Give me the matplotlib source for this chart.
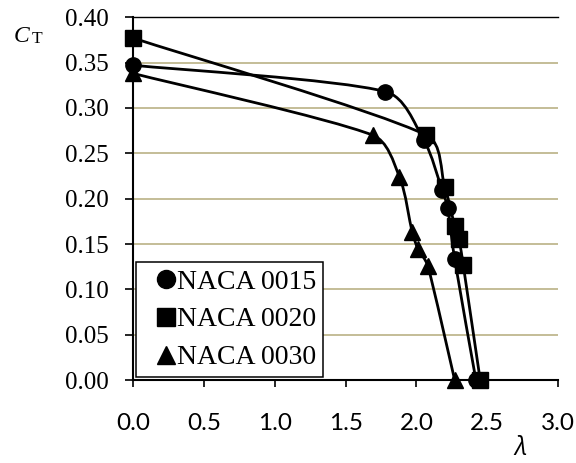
import numpy as np
import matplotlib
matplotlib.use('Agg')
import matplotlib.pyplot as plt
from matplotlib.path import Path
from matplotlib.patches import PathPatch

# data
tsr_0015 = [0.0, 1.78, 2.05, 2.18, 2.22, 2.27, 2.42]
ct_0015 = [0.347, 0.318, 0.265, 0.210, 0.190, 0.133, 0.0]
tsr_0020 = [0.0, 2.07, 2.20, 2.27, 2.30, 2.33, 2.45]
ct_0020 = [0.377, 0.270, 0.213, 0.170, 0.155, 0.127, 0.0]
tsr_0030 = [0.0, 1.69, 1.88, 1.97, 2.01, 2.08, 2.27]
ct_0030 = [0.338, 0.270, 0.224, 0.163, 0.145, 0.126, 0.0]

series = [
    ('NACA 0015', tsr_0015, ct_0015, 'o'),
    ('NACA 0020', tsr_0020, ct_0020, 's'),
    ('NACA 0030', tsr_0030, ct_0030, '^'),
]

x_ticks = [0.0, 0.5, 1.0, 1.5, 2.0, 2.5, 3.0]
y_ticks = [0.0, 0.05, 0.10, 0.15, 0.20, 0.25, 0.30, 0.35, 0.40]

MS = 11.0
LEG_MS = 13.0


def numpy_norm(v):
    return float(np.hypot(v[0], v[1]))


def smooth_path(ax, x, y):
    """ Smoothed line through the points (cubic bezier, handles limited
    to a third of the segment so long segments do not overshoot). """
    x0, x1 = ax.get_xlim()
    y0, y1 = ax.get_ylim()
    w, h = 425.0, 363.0
    p = np.column_stack([(np.asarray(x) - x0) / (x1 - x0) * w,
                         (np.asarray(y) - y0) / (y1 - y0) * h])
    n = len(p)

    def handle(i, seg):
        pm = p[i - 1] if i > 0 else p[i]
        pn = p[i + 1] if i + 1 < n else p[i]
        t = pn - pm
        norm = numpy_norm(t)
        if norm == 0:
            return np.zeros(2)
        length = min(norm / 6.0, seg / 3.0)
        return t / norm * length

    verts = [p[0]]
    codes = [Path.MOVETO]
    for i in range(n - 1):
        seg = numpy_norm(p[i + 1] - p[i])
        c1 = p[i] + handle(i, seg)
        c2 = p[i + 1] - handle(i + 1, seg)
        verts += [c1, c2, p[i + 1]]
        codes += [Path.CURVE4] * 3
    verts = np.array(verts)
    verts[:, 0] = verts[:, 0] / w * (x1 - x0) + x0
    verts[:, 1] = verts[:, 1] / h * (y1 - y0) + y0
    return Path(verts, codes)


fig = plt.figure(figsize=(5.76, 4.63), dpi=100)
ax = fig.add_axes([0.231, 0.179, 0.738, 0.784])
ax.set_xlim(0, 3.0)
ax.set_ylim(0, 0.40)

for y in y_ticks[1:-1]:
    ax.axhline(y, color='#c4bd97', lw=1.4, zorder=0)

handles = []
for name, x, y, m in series:
    ax.add_patch(PathPatch(smooth_path(ax, x, y), facecolor='none',
                           edgecolor='black', lw=2.0, zorder=2, clip_on=False))
    ln, = ax.plot(x, y, ls='none', marker=m, color='black', markersize=MS,
                  label=name, zorder=3, clip_on=False)
    handles.append(ln)

ax.set_xticks(x_ticks)
ax.set_xticklabels([f'{v:.1f}' for v in x_ticks])
ax.set_yticks(y_ticks)
ax.set_yticklabels([f'{v:.2f}' for v in y_ticks])
ax.tick_params(axis='x', direction='out', length=5, width=1.2, pad=19,
               labelsize=17.5, labelfontfamily='Lato')
ax.tick_params(axis='y', direction='out', length=5.5, width=1.2, pad=12,
               labelsize=18, labelfontfamily='Liberation Serif')

ax.spines['right'].set_visible(False)
ax.spines['top'].set_linewidth(1.0)
for s in ('left', 'bottom'):
    ax.spines[s].set_linewidth(1.5)

fig.text(0.024, 0.909, 'C', fontfamily='Liberation Serif', fontsize=17, style='italic')
fig.text(0.055, 0.907, 'T', fontfamily='Liberation Serif', fontsize=12.5)
fig.text(0.893, 0.017, 'λ', fontfamily='Open Sans', fontsize=18, style='italic')

leg = ax.legend(handles=handles, loc='lower left', bbox_to_anchor=(0.0, 0.0),
                frameon=True, fancybox=False, framealpha=1,
                prop={'family': 'Liberation Serif', 'size': 20},
                markerscale=LEG_MS / MS, handlelength=1.65,
                handletextpad=-0.43, borderpad=0.25, labelspacing=0.45,
                borderaxespad=0.1)
leg.get_frame().set_edgecolor('black')
leg.get_frame().set_linewidth(1.1)

fig.savefig('out.png', dpi=100)
